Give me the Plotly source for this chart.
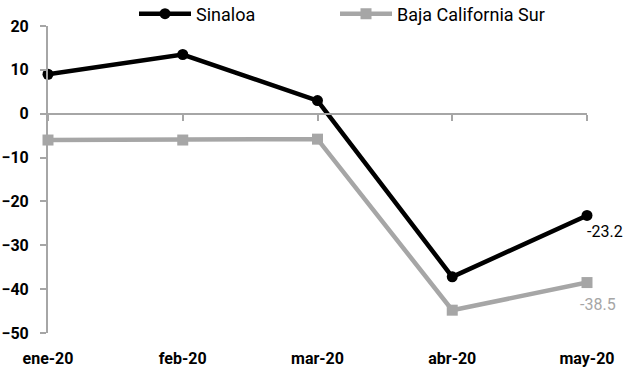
import plotly.graph_objects as go

months = ["ene-20", "feb-20", "mar-20", "abr-20", "may-20"]
sinaloa = [9.0, 13.5, 3.0, -37.2, -23.2]
bcs = [-6.0, -6.0, -5.8, -44.8, -38.5]
y_ticks = [20, 10, 0, -10, -20, -30, -40, -50]

FONT = "Roboto, Liberation Sans, sans-serif"
GRAY = "#A6A6A6"
xs = list(range(len(months)))

W, H = 626, 371

fig = go.Figure()
fig.add_trace(go.Scatter(
    x=xs, y=sinaloa, name="Sinaloa", mode="lines+markers",
    line=dict(color="#000000", width=4.5),
    marker=dict(symbol="circle", size=11, color="#000000"),
    cliponaxis=False, legend="legend",
))
fig.add_trace(go.Scatter(
    x=xs, y=bcs, name="Baja California Sur", mode="lines+markers",
    line=dict(color=GRAY, width=4.5),
    marker=dict(symbol="square", size=11, color=GRAY),
    cliponaxis=False, legend="legend2",
))
# zero-line axis with tick marks (overlay)
fig.add_trace(go.Scatter(x=xs, y=[0]*len(xs), xaxis="x2", mode="none",
                         showlegend=False, hoverinfo="skip"))

fig.add_annotation(x=xs[-1], y=sinaloa[-1], text=f"{sinaloa[-1]:.1f}",
                   showarrow=False, xanchor="right", yanchor="top",
                   xshift=38, yshift=-5,
                   font=dict(family=FONT, size=16, color="#000000"))
fig.add_annotation(x=xs[-1], y=bcs[-1], text=f"{bcs[-1]:.1f}",
                   showarrow=False, xanchor="right", yanchor="top",
                   xshift=31, yshift=-10,
                   font=dict(family=FONT, size=16, color=GRAY))

legend_common = dict(orientation="h", xref="container", yref="container",
                     xanchor="left", y=1 - 14 / H, yanchor="middle",
                     font=dict(family=FONT, size=18), itemwidth=52,
                     bgcolor="rgba(0,0,0,0)")

ymin, ymax = -50, 20
fig.update_layout(
    width=W, height=H,
    margin=dict(l=48, r=39, t=26, b=38, autoexpand=False),
    paper_bgcolor="white", plot_bgcolor="white",
    font=dict(family=FONT, size=16, color="#000000"),
    showlegend=True,
    legend=dict(x=134 / W, **legend_common),
    legend2=dict(x=335 / W, **legend_common),
    xaxis=dict(range=[0, 4], tickvals=xs, ticktext=months, showline=False,
               showgrid=False, zeroline=False, ticks="", ticklabelstandoff=14,
               tickfont=dict(family=FONT, size=16, weight="bold")),
    xaxis2=dict(range=[0, 4], overlaying="x", anchor="free",
                position=(0 - ymin) / (ymax - ymin), side="bottom",
                showline=True, linecolor=GRAY, linewidth=2,
                ticks="outside", ticklen=6, tickwidth=2, tickcolor=GRAY,
                tickvals=xs, showticklabels=False, showgrid=False, zeroline=False),
    yaxis=dict(range=[ymin, ymax], tickvals=y_ticks, showgrid=False,
               zeroline=False, showline=True, linecolor=GRAY, linewidth=2,
               ticks="outside", ticklen=6, tickwidth=2, tickcolor=GRAY,
               ticklabelstandoff=8,
               tickfont=dict(family=FONT, size=16, weight="bold")),
)

fig.write_html("out.html", config={"displayModeBar": False},
               post_script="document.body.style.margin='0';document.body.style.overflow='hidden';")
